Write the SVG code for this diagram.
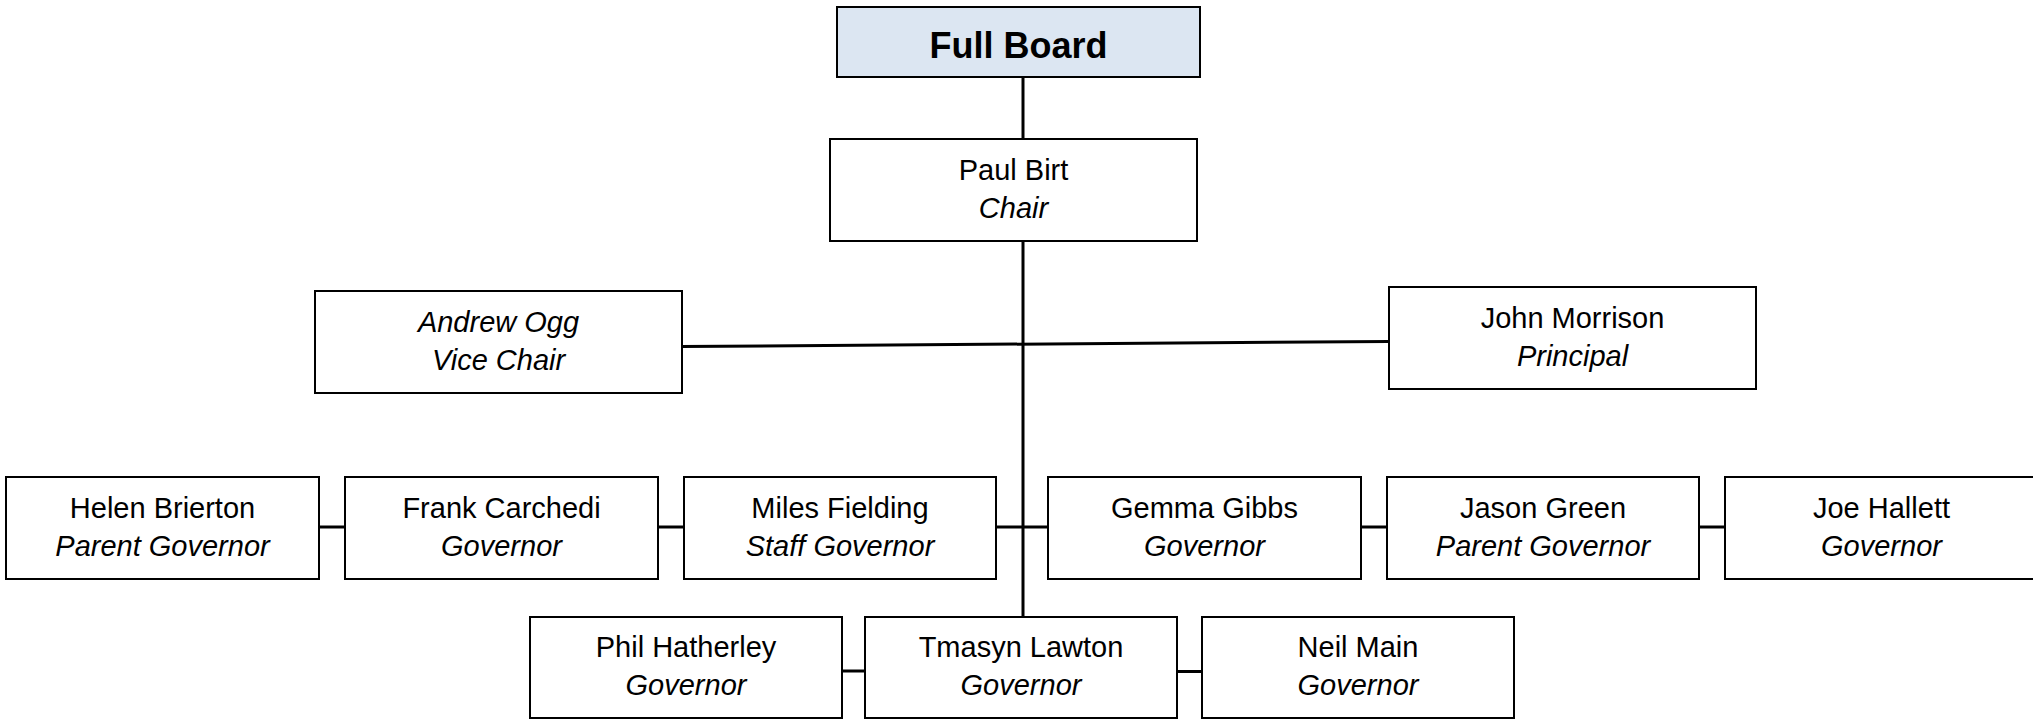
<svg xmlns="http://www.w3.org/2000/svg" width="2033" height="720" viewBox="0 0 2033 720">
<style>
.box{fill:#ffffff;stroke:#000000;stroke-width:2}
.top{fill:#DCE6F2;stroke:#000000;stroke-width:2}
.t{font-family:"Liberation Sans",Arial,sans-serif;font-size:29px;fill:#000;text-anchor:middle}
.i{font-style:italic}
.b{font-weight:bold;font-size:36px}
.c{stroke:#000;stroke-width:3;fill:none}
</style>
<rect width="2033" height="720" fill="#ffffff"/>
<g id="connectors">
<line class="c" x1="1023" y1="77" x2="1023" y2="139"/>
<line class="c" x1="1023" y1="241" x2="1023" y2="617"/>
<line class="c" x1="681" y1="346.5" x2="1389" y2="341.5"/>
<line class="c" x1="319" y1="527" x2="345" y2="527"/>
<line class="c" x1="658" y1="527" x2="684" y2="527"/>
<line class="c" x1="996" y1="527" x2="1048" y2="527"/>
<line class="c" x1="1361" y1="527" x2="1387" y2="527"/>
<line class="c" x1="1699" y1="527" x2="1725" y2="527"/>
<line class="c" x1="842" y1="671" x2="865" y2="671"/>
<line class="c" x1="1177" y1="671.5" x2="1202" y2="671.5"/>
</g>
<g id="full-board">
<rect class="top" x="837" y="7" width="363" height="70"/>
<text class="t b" x="1018.5" y="58">Full Board</text>
</g>
<g id="paul-birt">
<rect class="box" x="830" y="139" width="367" height="102"/>
<text class="t" x="1013.5" y="180">Paul Birt</text>
<text class="t i" x="1013.5" y="218">Chair</text>
</g>
<g id="andrew-ogg">
<rect class="box" x="315" y="291" width="367" height="102"/>
<text class="t i" x="498.5" y="332">Andrew Ogg</text>
<text class="t i" x="498.5" y="370">Vice Chair</text>
</g>
<g id="john-morrison">
<rect class="box" x="1389" y="287" width="367" height="102"/>
<text class="t" x="1572.5" y="328">John Morrison</text>
<text class="t i" x="1572.5" y="366">Principal</text>
</g>
<g id="helen-brierton">
<rect class="box" x="6" y="477" width="313" height="102"/>
<text class="t" x="162.5" y="518">Helen Brierton</text>
<text class="t i" x="162.5" y="556">Parent Governor</text>
</g>
<g id="frank-carchedi">
<rect class="box" x="345" y="477" width="313" height="102"/>
<text class="t" x="501.5" y="518">Frank Carchedi</text>
<text class="t i" x="501.5" y="556">Governor</text>
</g>
<g id="miles-fielding">
<rect class="box" x="684" y="477" width="312" height="102"/>
<text class="t" x="840" y="518">Miles Fielding</text>
<text class="t i" x="840" y="556">Staff Governor</text>
</g>
<g id="gemma-gibbs">
<rect class="box" x="1048" y="477" width="313" height="102"/>
<text class="t" x="1204.5" y="518">Gemma Gibbs</text>
<text class="t i" x="1204.5" y="556">Governor</text>
</g>
<g id="jason-green">
<rect class="box" x="1387" y="477" width="312" height="102"/>
<text class="t" x="1543" y="518">Jason Green</text>
<text class="t i" x="1543" y="556">Parent Governor</text>
</g>
<g id="joe-hallett">
<rect class="box" x="1725" y="477" width="313" height="102"/>
<text class="t" x="1881.5" y="518">Joe Hallett</text>
<text class="t i" x="1881.5" y="556">Governor</text>
</g>
<g id="phil-hatherley">
<rect class="box" x="530" y="617" width="312" height="101"/>
<text class="t" x="686" y="657">Phil Hatherley</text>
<text class="t i" x="686" y="695">Governor</text>
</g>
<g id="tmasyn-lawton">
<rect class="box" x="865" y="617" width="312" height="101"/>
<text class="t" x="1021" y="657">Tmasyn Lawton</text>
<text class="t i" x="1021" y="695">Governor</text>
</g>
<g id="neil-main">
<rect class="box" x="1202" y="617" width="312" height="101"/>
<text class="t" x="1358" y="657">Neil Main</text>
<text class="t i" x="1358" y="695">Governor</text>
</g>
</svg>
